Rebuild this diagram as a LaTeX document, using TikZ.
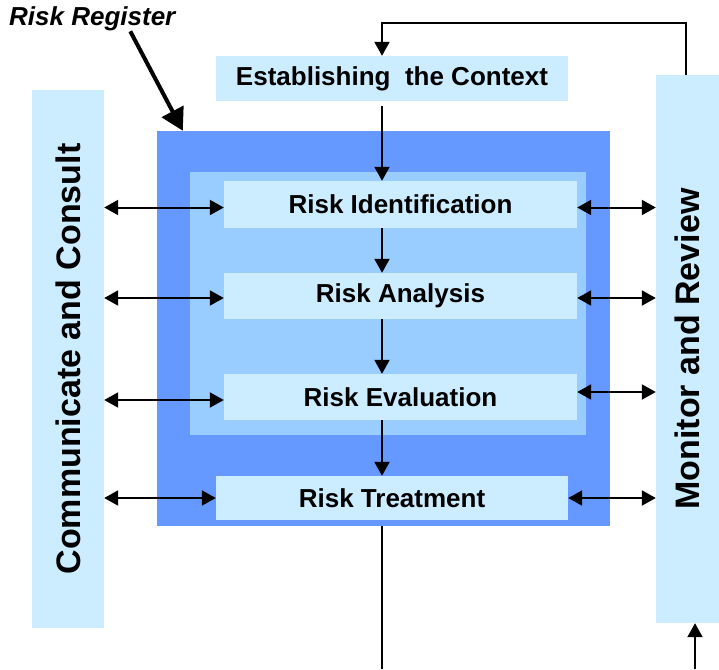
\documentclass[tikz,border=0pt]{standalone}
\usepackage{fontspec}
\setmainfont{Liberation Sans}
\usepackage{tikz}
\usetikzlibrary{arrows.meta,positioning}
\definecolor{paleblue}{HTML}{CCECFF}
\definecolor{midblue}{HTML}{99CCFF}
\definecolor{deepblue}{HTML}{6699FF}
\tikzset{
    %Define standard arrow tip
    >={Triangle[width=15pt,length=14pt]},
    %Define style for process boxes
    phase/.style={
           rectangle,
           fill=paleblue,
           inner sep=0pt,
           font=\fontsize{26}{31}\selectfont\bfseries,
           text centered},
    sidebar/.style={
           rectangle,
           fill=paleblue,
           inner sep=0pt,
           rotate=90,
           font=\fontsize{34}{40}\selectfont\bfseries,
           text centered},
    frame/.style={
           rectangle,
           inner sep=0pt},
    % Define arrow styles
    link/.style={
           ->,
           line width=2pt},
    duplex/.style={
           <->,
           line width=2pt}
}

\begin{document}
\begin{tikzpicture}[x=1pt,y=-1pt]
\useasboundingbox (0,0) rectangle (719,669);
% register frames
\node[frame, fill=deepblue, minimum width=453, minimum height=395] (register) at (383.5,328.5) {};
\node[frame, fill=midblue, minimum width=396, minimum height=263] (inner) at (388,303.5) {};
% process steps
\node[phase, minimum width=352, minimum height=45] (context) at (392,78.5) {Establishing~ the Context};
\node[phase, minimum width=353, minimum height=47] (ident) at (400.5,204.5) {Risk Identification};
\node[phase, minimum width=353, minimum height=46] (analysis) at (400.5,296) {Risk Analysis};
\node[phase, minimum width=353, minimum height=46] (evaluation) at (400.5,397) {Risk Evaluation};
\node[phase, minimum width=352, minimum height=44] (treatment) at (392,498) {Risk Treatment};
% side bars (rotated: north = left side, east = top, west = bottom)
\node[sidebar, minimum width=538, minimum height=72] (communicate) at (68,359) {Communicate and Consult};
\node[sidebar, minimum width=548, minimum height=63] (monitor) at (687.5,349) {Monitor and Review};
% label
\node[anchor=west, inner sep=0pt, font=\fontsize{26}{31}\selectfont\bfseries\itshape] (reglabel) at (9,19) {Risk Register};
\coordinate (spine) at (382,0);
\coordinate (loop) at (0,23);
\coordinate (bottom) at (0,669);
\coordinate (feedin) at (695,669);

\draw[line width=4pt, -{Triangle[width=24pt,length=22pt]}]
   ([xshift=38pt]reglabel.south) -- ([xshift=26pt]register.north west);

% main flow
\draw[link, shorten <=5pt] (spine |- context.south) -- (spine |- ident.north);
\draw[link] (spine |- ident.south) -- (spine |- analysis.north);
\draw[link] (spine |- analysis.south) -- (spine |- evaluation.north);
\draw[link] (spine |- evaluation.south) -- (spine |- treatment.north);
\draw[line width=2pt] (spine |- register.south) -- (spine |- bottom);
\draw[link] ([xshift=-2pt]monitor.east) |- (spine |- loop) -- (spine |- context.north);
\draw[link] (feedin) -- (feedin |- monitor.west);

% consult links
\draw[duplex] ([yshift=-3pt]ident.west -| communicate.south) -- ([yshift=-3pt]ident.west);
\draw[duplex] ([yshift=-2pt]analysis.west -| communicate.south) -- ([yshift=-2pt]analysis.west);
\draw[duplex] ([yshift=-3pt]evaluation.west -| communicate.south) -- ([yshift=-3pt]evaluation.west);
\draw[duplex] (treatment.west -| communicate.south) -- (treatment.west);
% review links
\draw[duplex] ([yshift=-3pt]ident.east) -- ([yshift=-3pt]ident.east -| monitor.north);
\draw[duplex] ([yshift=-2pt]analysis.east) -- ([yshift=-2pt]analysis.east -| monitor.north);
\draw[duplex] ([yshift=5pt]evaluation.east) -- ([yshift=5pt]evaluation.east -| monitor.north);
\draw[duplex] (treatment.east) -- (treatment.east -| monitor.north);
\end{tikzpicture}
\end{document}
